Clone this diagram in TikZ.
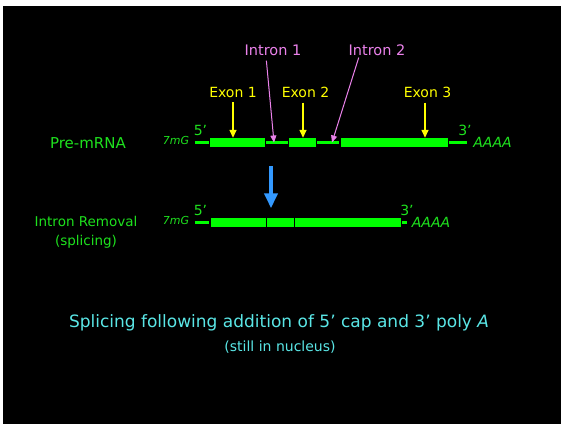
\documentclass[tikz,border=0pt]{standalone}
\usepackage{fontspec}
\setmainfont{DejaVu Sans}
\usetikzlibrary{arrows.meta}
\definecolor{gbox}{RGB}{0,255,0}
\definecolor{gtxt}{RGB}{30,225,30}
\definecolor{ytxt}{RGB}{255,255,0}
\definecolor{ptxt}{RGB}{235,130,235}
\definecolor{barrow}{RGB}{51,153,255}
\definecolor{ctxt}{RGB}{90,230,230}
\tikzset{
  exon/.style={rectangle,fill=gbox,inner sep=0pt,minimum height=9pt},
  splitbox/.style={rectangle,fill=gbox,draw=black,line width=0.7pt,inner sep=0pt,minimum height=9.7pt},
  thin/.style={rectangle,fill=gbox,inner sep=0pt,minimum height=2.6pt},
  lab/.style={inner sep=1pt,font=\fontsize{#1}{#1}\selectfont},
  exlab/.style={lab=14,text=ytxt},
  inlab/.style={lab=14.5,text=ptxt},
  yarrow/.style={draw=ytxt,line width=1.4pt,-{Triangle[width=7pt,length=8pt]}},
  parrow/.style={draw=ptxt,line width=1pt,-{Triangle[width=6pt,length=7pt]}},
  barrowst/.style={draw=barrow,line width=4pt,-{Triangle[width=13pt,length=15pt]}},
  gtext/.style={lab=#1,text=gtxt},
}
\begin{document}
\begin{tikzpicture}[x=1pt,y=-1pt]
\useasboundingbox (0,0) rectangle (561,424);
\fill[white] (0,0) rectangle (561,424);
\fill[black] (3,6) rectangle (561,424);

% Pre-mRNA row
\node[thin,minimum width=14pt] (lead1) at (202,142.5) {};
\node[exon,minimum width=55pt] (e1) at (237.5,142.5) {};
\node[thin,minimum width=22pt] (i1) at (277,142.5) {};
\node[exon,minimum width=27pt] (e2) at (302.5,142.5) {};
\node[thin,minimum width=22pt] (i2) at (328,142.5) {};
\node[exon,minimum width=107pt] (e3) at (394.5,142.5) {};
\node[thin,minimum width=18pt] (tail1) at (458,142.5) {};

\node[gtext=15] (pre) at (88,143) {Pre-mRNA};
\node[gtext=11] (cap1) at (176,140) {\itshape 7mG};
\node[gtext=14] (five1) at (200.5,130) {5’};
\node[gtext=14] (three1) at (465,130) {3’};
\node[gtext=14] (poly1) at (492.5,142.5) {\itshape AAAA};

\node[exlab] (x1) at (233,92) {Exon 1};
\node[exlab] (x2) at (305.5,92) {Exon 2};
\node[exlab] (x3) at (427.5,92) {Exon 3};
\draw[yarrow,shorten <=4pt] (x1.south) -- (x1.south |- e1.north);
\draw[yarrow,shorten <=4pt] ([xshift=-2.5pt]x2.south) -- ([xshift=-2.5pt]x2.south |- e2.north);
\draw[yarrow,shorten <=4pt] ([xshift=-2.5pt]x3.south) -- ([xshift=-2.5pt]x3.south |- e3.north);

\node[inlab] (n1) at (273,50) {Intron 1};
\node[inlab] (n2) at (377,50) {Intron 2};
\draw[parrow,shorten <=4pt] ([xshift=-7pt]n1.south) -- ([xshift=-3pt]i1.center);
\draw[parrow,shorten <=1pt] ([xshift=-18pt]n2.south) -- ([xshift=4pt]i2.center);

% splicing arrow
\coordinate (bstart) at (271,166);

% Spliced row
\node[thin,minimum width=14pt] (lead2) at (202,222.5) {};
\node[splitbox,minimum width=56pt] (b1) at (238,222.5) {};
\node[splitbox,minimum width=28pt] (b2) at (280,222.5) {};
\node[splitbox,minimum width=107pt] (b3) at (347.5,222.5) {};
\node[thin,minimum width=5pt] (tail2) at (404.5,222.5) {};
\draw[barrowst] (bstart) -- ([yshift=9pt]bstart |- b1.north);

\node[gtext=13.5] (rem) at (86,221) {Intron Removal};
\node[gtext=13.5] (spl) at (86,242) {(splicing)};
\node[gtext=11] (cap2) at (176,220) {\itshape 7mG};
\node[gtext=14] (five2) at (200.5,210) {5’};
\node[gtext=14] (three2) at (407,210) {3’};
\node[gtext=14] (poly2) at (431,222.5) {\itshape AAAA};

% bottom text
\node[lab=17,text=ctxt] (cap) at (279,323) {Splicing following addition of 5’ cap and 3’ poly \textit{A}};
\node[lab=14,text=ctxt] (nuc) at (280,347) {(still in nucleus)};
\end{tikzpicture}
\end{document}
